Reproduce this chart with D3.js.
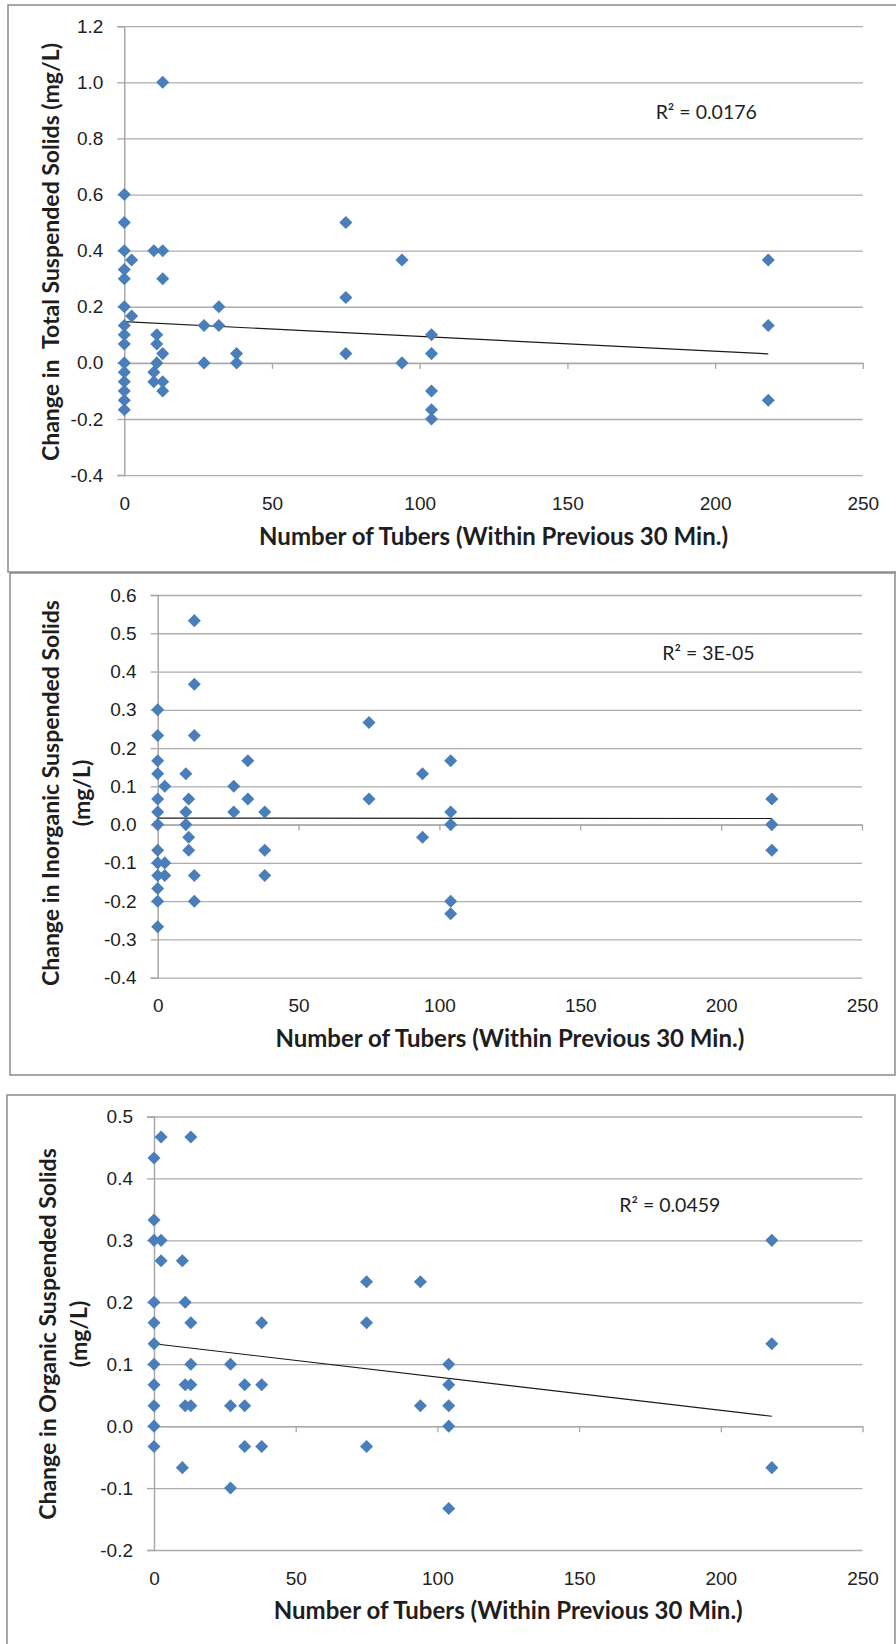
<!DOCTYPE html>
<html>
<head>
<meta charset="utf-8">
<script src="https://cdn.jsdelivr.net/npm/d3@7"></script>
<style>
  body { margin: 0; background: #fff; }
  svg { display: block; font-family: Lato, "Open Sans", sans-serif; }
  .ytitle { white-space: pre; }
</style>
</head>
<body>
<script>
// shared x ticks (number of tubers)
var xTicks = [0, 50, 100, 150, 200, 250];

// total suspended solids
var tssTubers = [0,0,0,0,0,0,0,0,0,0,0,0,0,0,0, 2.5,2.5, 10,10,10, 11,11,11, 13,13,13,13,13,13,
                 27,27, 32,32, 38,38, 75,75,75, 94,94, 104,104,104,104,104, 218,218,218];
var tssChange = [0.6,0.5,0.4,0.333,0.3,0.2,0.133,0.1,0.067,0,-0.033,-0.067,-0.1,-0.133,-0.167, 0.367,0.167,
                 0.4,-0.033,-0.067, 0.1,0.067,0, 1.0,0.4,0.3,0.033,-0.067,-0.1,
                 0.133,0, 0.2,0.133, 0.033,0, 0.5,0.233,0.033, 0.367,0, 0.1,0.033,-0.1,-0.167,-0.2, 0.367,0.133,-0.133];
var tssTicks = [-0.4,-0.2,0,0.2,0.4,0.6,0.8,1.0,1.2];
var tssTrend = [0.147, 0.032];

// inorganic suspended solids
var issTubers = [0,0,0,0,0,0,0,0,0,0,0,0,0, 2.5,2.5,2.5, 10,10,10, 11,11,11, 13,13,13,13,13,
                 27,27, 32,32, 38,38,38, 75,75, 94,94, 104,104,104,104,104, 218,218,218];
var issChange = [0.3,0.233,0.167,0.133,0.067,0.033,0,-0.067,-0.1,-0.133,-0.167,-0.2,-0.267, 0.1,-0.1,-0.133,
                 0.133,0.033,0, 0.067,-0.033,-0.067, 0.533,0.367,0.233,-0.133,-0.2,
                 0.1,0.033, 0.167,0.067, 0.033,-0.067,-0.133, 0.267,0.067, 0.133,-0.033,
                 0.167,0.033,0,-0.2,-0.233, 0.067,0,-0.067];
var issTicks = [-0.4,-0.3,-0.2,-0.1,0,0.1,0.2,0.3,0.4,0.5,0.6];
var issTrend = [0.017, 0.016];

// organic suspended solids
var ossTubers = [0,0,0,0,0,0,0,0,0,0,0, 2.5,2.5,2.5, 10,10, 11,11,11, 13,13,13,13,13,
                 27,27,27, 32,32,32, 38,38,38, 75,75,75, 94,94, 104,104,104,104,104, 218,218,218];
var ossChange = [0.433,0.333,0.3,0.2,0.167,0.133,0.1,0.067,0.033,0,-0.033, 0.467,0.3,0.267,
                 0.267,-0.067, 0.2,0.067,0.033, 0.467,0.167,0.1,0.067,0.033,
                 0.1,0.033,-0.1, 0.067,0.033,-0.033, 0.167,0.067,-0.033, 0.233,0.167,-0.033,
                 0.233,0.033, 0.1,0.067,0.033,0,-0.133, 0.3,0.133,-0.067];
var ossTicks = [-0.2,-0.1,0,0.1,0.2,0.3,0.4,0.5];
var ossTrend = [0.133, 0.016];

var trendTubers = [0, 218];

var blue = "#4A7EBB", grid = "#adadad", ink = "#1e1e1e";

var panels = [
  {xs: tssTubers, ys: tssChange, ticks: tssTicks, trend: tssTrend, r2: "R² = 0.0176", r2at: [197, 0.894],
   left: 124.3, right: 862.8, top: 26.2, bottom: 475.1,
   frame: [8, 5, 900, 567], title: ["Change in  Total Suspended Solids (mg/L)"], titleX: [51], titleY: 252},
  {xs: issTubers, ys: issChange, ticks: issTicks, trend: issTrend, r2: "R² = 3E-05", r2at: [195.5, 0.449],
   left: 157.7, right: 862, top: 595, bottom: 977.7,
   frame: [10, 573, 885, 502], title: ["Change in Inorganic Suspended Solids", "(mg/L)"], titleX: [51, 82], titleY: 793},
  {xs: ossTubers, ys: ossChange, ticks: ossTicks, trend: ossTrend, r2: "R² = 0.0459", r2at: [182, 0.357],
   left: 154, right: 862.5, top: 1116.5, bottom: 1550,
   frame: [7, 1095, 888, 560], title: ["Change in Organic Suspended Solids", "(mg/L)"], titleX: [48, 79], titleY: 1334}
];

var svg = d3.select("body").append("svg")
    .attr("width", 896)
    .attr("height", 1644);

var diamond = d3.symbol().type(d3.symbolSquare).size(85);

panels.forEach(function(p) {
  svg.append("rect")
    .attr("x", p.frame[0]).attr("y", p.frame[1])
    .attr("width", p.frame[2]).attr("height", p.frame[3])
    .attr("fill", "none").attr("stroke", "#8a8a8a").attr("stroke-width", 1.5);

  var x = d3.scaleLinear().domain([0, 250]).range([p.left, p.right]);
  var y = d3.scaleLinear().domain(d3.extent(p.ticks)).range([p.bottom, p.top]);
  var w = p.right - p.left;

  // gridlines
  svg.append("g")
    .attr("transform", "translate(" + p.left + ",0)")
    .call(d3.axisLeft(y).tickValues(p.ticks).tickSize(-w).tickFormat(""))
    .call(function(g) {
      g.select(".domain").remove();
      g.selectAll("line").attr("stroke", grid).attr("stroke-width", 1.3);
    });

  // y axis
  svg.append("g")
    .attr("transform", "translate(" + p.left + ",0)")
    .call(d3.axisLeft(y).tickValues(p.ticks).tickSize(7).tickPadding(14)
      .tickFormat(function(d) { return d.toFixed(1); }))
    .call(function(g) {
      g.select(".domain").attr("stroke", "#a8a8a8").attr("stroke-width", 1.5);
      g.selectAll("line").attr("stroke", "#a8a8a8").attr("stroke-width", 1.3);
      g.selectAll("text").attr("font-size", 19).attr("fill", ink);
    });

  // x axis line through zero
  svg.append("g")
    .attr("transform", "translate(0," + y(0) + ")")
    .call(d3.axisBottom(x).tickValues(xTicks.slice(1)).tickSize(6).tickFormat("").tickSizeOuter(0))
    .call(function(g) {
      g.select(".domain").attr("stroke", "#a8a8a8").attr("stroke-width", 1.5);
      g.selectAll("line").attr("stroke", "#a8a8a8").attr("stroke-width", 1.3);
    });

  // x tick labels at bottom
  svg.append("g")
    .attr("transform", "translate(0," + p.bottom + ")")
    .call(d3.axisBottom(x).tickValues(xTicks).tickSize(0))
    .call(function(g) {
      g.select(".domain").remove();
      g.selectAll("text").attr("y", 28).attr("dy", "0.35em")
        .attr("font-size", 19).attr("fill", ink);
    });

  // trendline
  svg.append("line")
    .attr("x1", x(trendTubers[0])).attr("y1", y(p.trend[0]))
    .attr("x2", x(trendTubers[1])).attr("y2", y(p.trend[1]))
    .attr("stroke", "#1a1a1a").attr("stroke-width", 1.2);

  // points
  svg.append("g").selectAll("path")
    .data(p.xs.map(function(d, i) { return [d, p.ys[i]]; }))
    .enter().append("path")
    .attr("d", diamond)
    .attr("transform", function(d) {
      return "translate(" + x(d[0]) + "," + y(d[1]) + ") rotate(45)";
    })
    .attr("fill", blue);

  // R squared
  svg.append("text")
    .attr("x", x(p.r2at[0])).attr("y", y(p.r2at[1]))
    .attr("dy", "0.35em").attr("text-anchor", "middle")
    .attr("font-size", 19.5).attr("fill", ink)
    .text(p.r2);

  // axis titles
  svg.append("text")
    .attr("x", (p.left + p.right) / 2).attr("y", p.bottom + 61)
    .attr("dy", "0.35em").attr("text-anchor", "middle")
    .attr("font-size", 24).attr("font-weight", "bold").attr("fill", ink)
    .text("Number of Tubers (Within Previous 30 Min.)");

  p.title.forEach(function(t, i) {
    svg.append("text")
      .attr("class", "ytitle")
      .attr("transform", "translate(" + p.titleX[i] + "," + p.titleY + ") rotate(-90)")
      .attr("dy", "0.35em").attr("text-anchor", "middle")
      .attr("font-size", 23).attr("font-weight", "bold").attr("fill", ink)
      .text(t);
  });
});
</script>
</body>
</html>
